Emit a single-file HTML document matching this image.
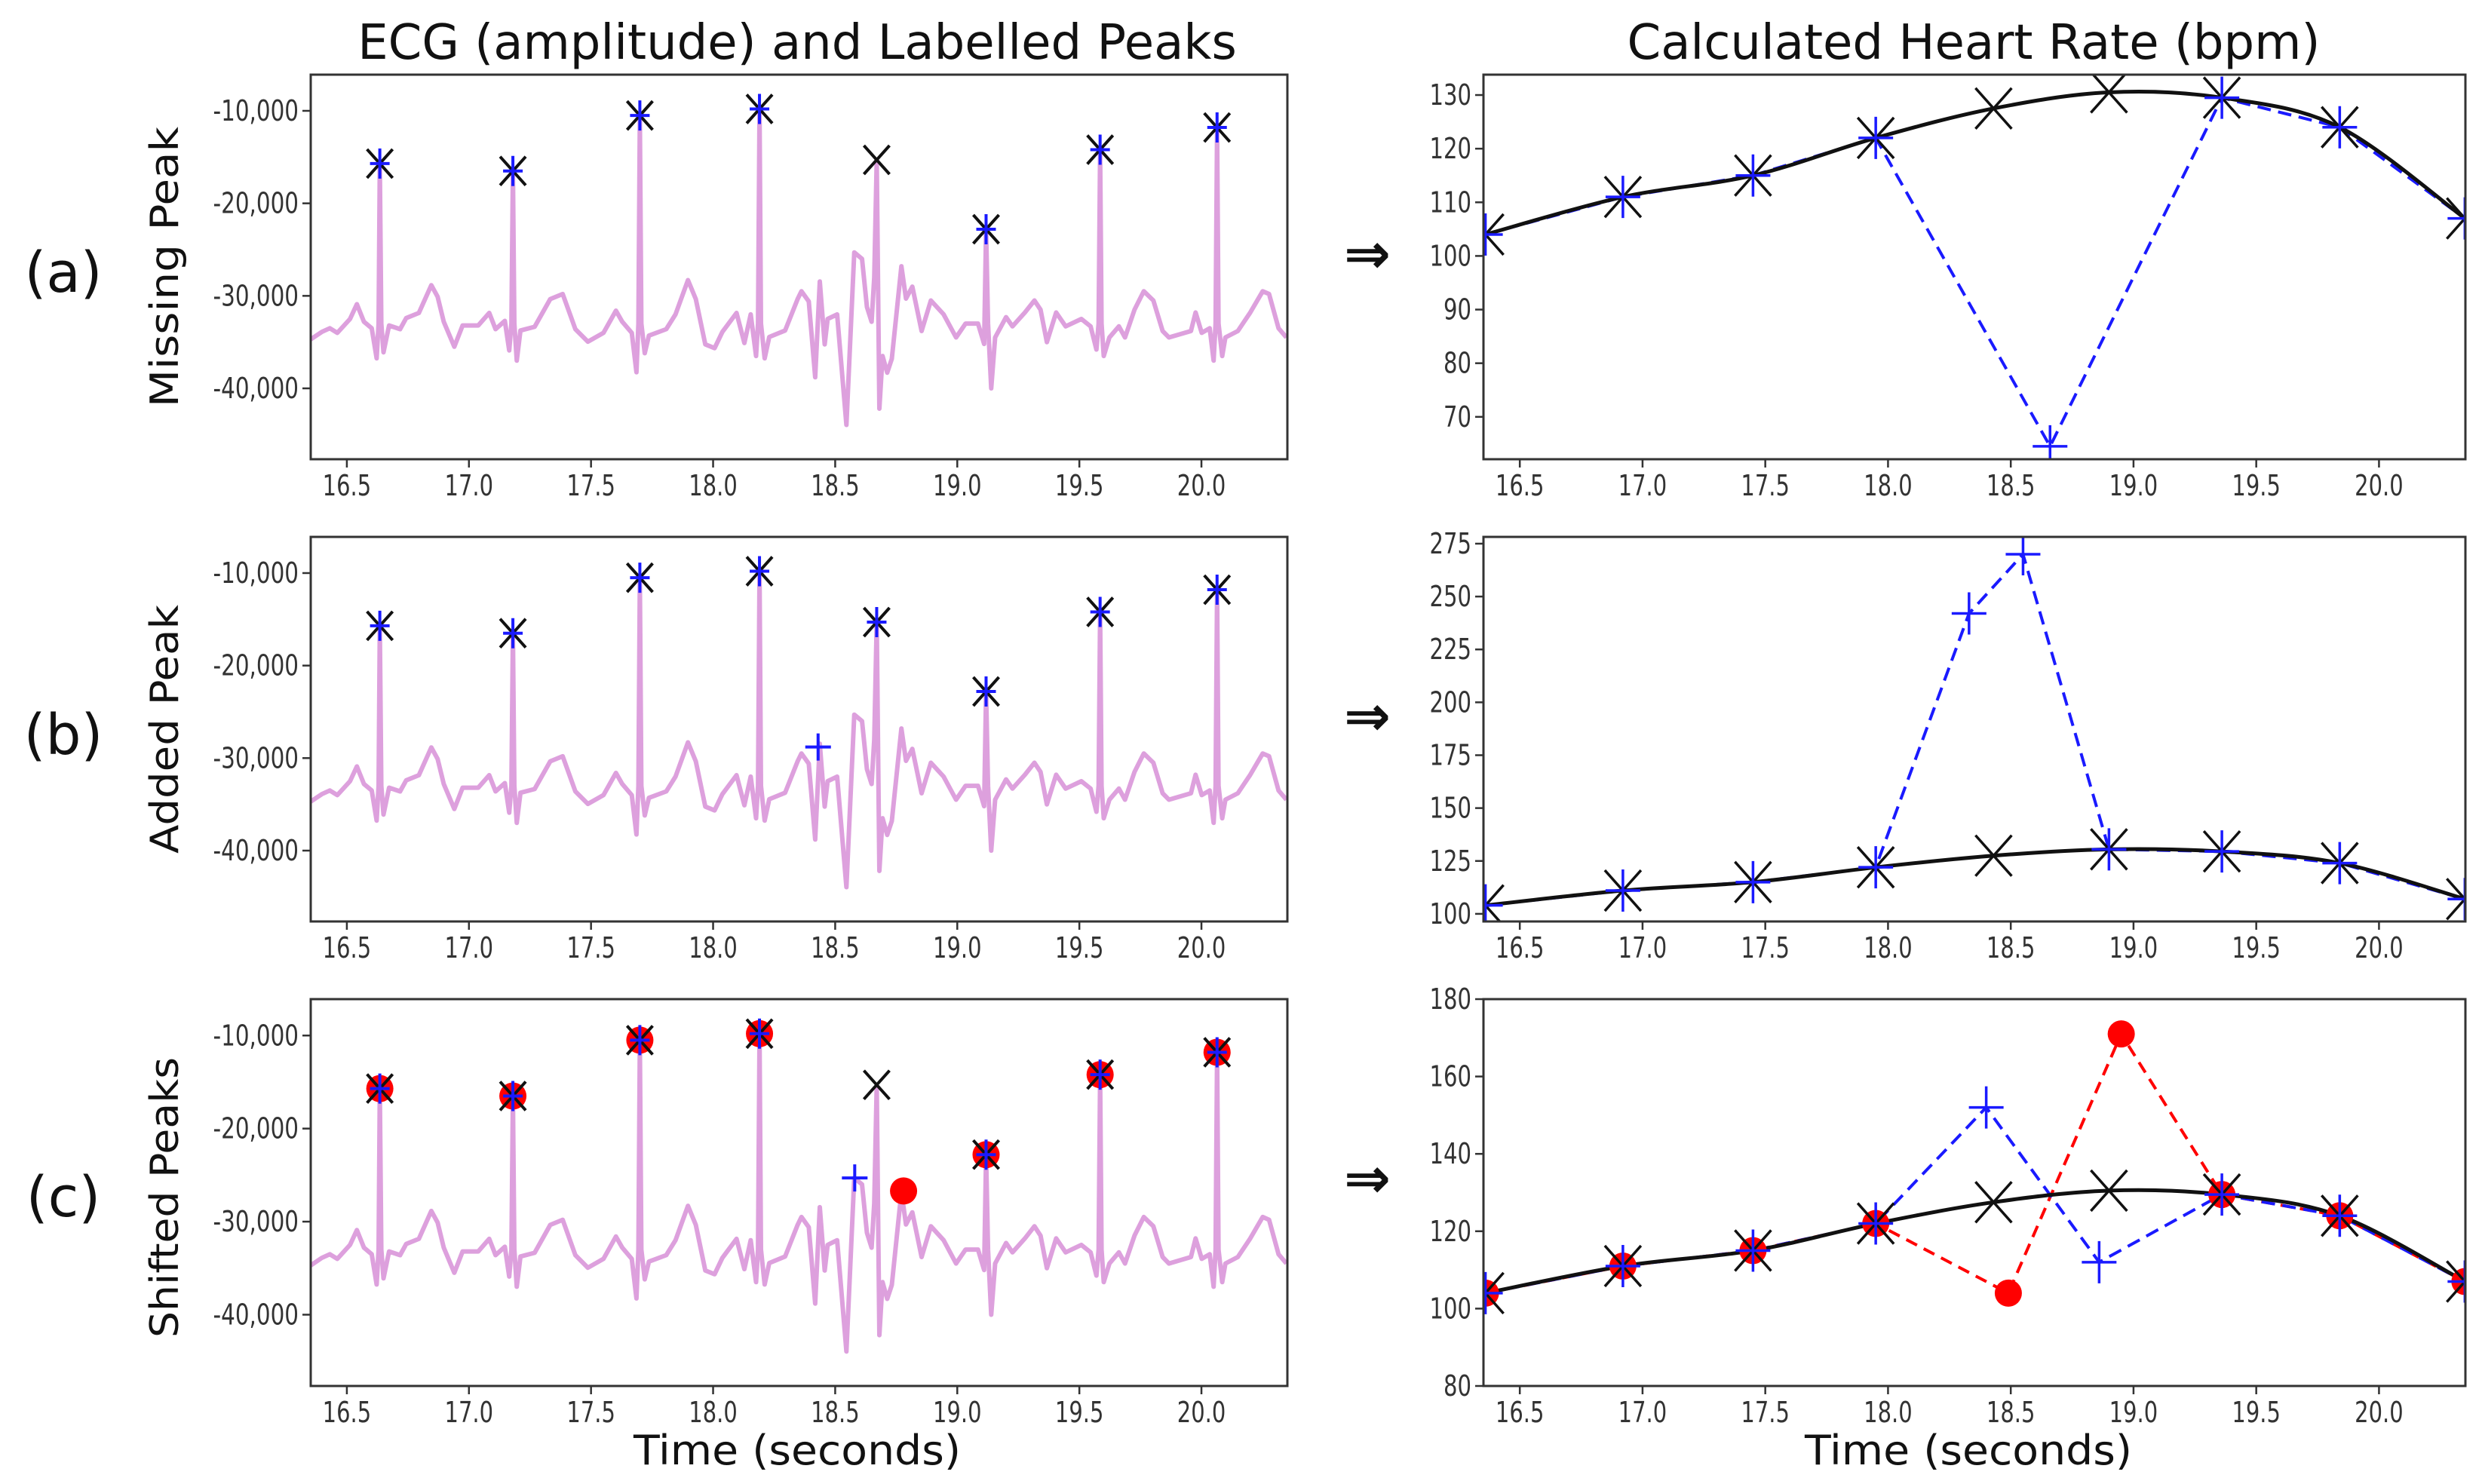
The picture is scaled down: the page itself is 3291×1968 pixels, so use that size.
<!DOCTYPE html>
<html><head><meta charset="utf-8">
<style>
html,body{margin:0;padding:0;background:#fff;}
svg{display:block;}
text{font-family:"DejaVu Sans","Liberation Sans",sans-serif;}
</style></head>
<body>
<svg id="fig" width="3291" height="1968" viewBox="0 0 3291 1968" xmlns="http://www.w3.org/2000/svg">
<rect x="0" y="0" width="3291" height="1968" fill="#fff"/>
<text x="1057" y="78" font-size="64" text-anchor="middle" font-family="Liberation Sans, sans-serif" fill="#111">ECG (amplitude) and Labelled Peaks</text>
<text x="2617" y="78" font-size="64" text-anchor="middle" font-family="Liberation Sans, sans-serif" fill="#111">Calculated Heart Rate (bpm)</text>
<text x="84" y="387" font-size="74" text-anchor="middle" font-family="Liberation Sans, sans-serif" fill="#111">(a)</text>
<text x="84" y="1000" font-size="74" text-anchor="middle" font-family="Liberation Sans, sans-serif" fill="#111">(b)</text>
<text x="84" y="1613" font-size="74" text-anchor="middle" font-family="Liberation Sans, sans-serif" fill="#111">(c)</text>
<text x="1813" y="362" font-size="74" font-weight="bold" text-anchor="middle" fill="#111">⇒</text>
<text x="1813" y="975" font-size="74" font-weight="bold" text-anchor="middle" fill="#111">⇒</text>
<text x="1813" y="1588" font-size="74" font-weight="bold" text-anchor="middle" fill="#111">⇒</text>
<text transform="translate(236,354) rotate(-90)" font-size="52" text-anchor="middle" textLength="372" lengthAdjust="spacingAndGlyphs" fill="#111">Missing Peak</text>
<text transform="translate(236,967) rotate(-90)" font-size="52" text-anchor="middle" textLength="330" lengthAdjust="spacingAndGlyphs" fill="#111">Added Peak</text>
<text transform="translate(236,1588) rotate(-90)" font-size="52" text-anchor="middle" textLength="372" lengthAdjust="spacingAndGlyphs" fill="#111">Shifted Peaks</text>
<text x="1057" y="1942" font-size="54" text-anchor="middle" textLength="434" lengthAdjust="spacingAndGlyphs" fill="#111">Time (seconds)</text>
<text x="2610" y="1942" font-size="54" text-anchor="middle" textLength="434" lengthAdjust="spacingAndGlyphs" fill="#111">Time (seconds)</text>
</svg>
<script>
const xTicks = [16.5, 17.0, 17.5, 18.0, 18.5, 19.0, 19.5, 20.0];
const xTickLabels = ["16.5", "17.0", "17.5", "18.0", "18.5", "19.0", "19.5", "20.0"];
const ecgYTicks = [-10000, -20000, -30000, -40000];
const ecgYTickLabels = ["-10,000", "-20,000", "-30,000", "-40,000"];
const hrTicksA = [70, 80, 90, 100, 110, 120, 130];
const hrTicksB = [100, 125, 150, 175, 200, 225, 250, 275];
const hrTicksC = [80, 100, 120, 140, 160, 180];

const ecgTime = [16.352,16.397,16.430,16.461,16.513,16.541,16.570,16.602,16.622,16.630,16.635,16.641,16.650,16.673,16.718,16.743,16.795,16.846,16.872,16.897,16.940,16.974,17.038,17.083,17.109,17.147,17.165,17.174,17.180,17.186,17.196,17.211,17.269,17.333,17.384,17.436,17.487,17.551,17.602,17.628,17.667,17.686,17.694,17.700,17.706,17.720,17.737,17.808,17.846,17.897,17.929,17.968,18.006,18.038,18.096,18.128,18.154,18.176,18.184,18.190,18.196,18.211,18.230,18.295,18.346,18.362,18.392,18.418,18.437,18.457,18.469,18.508,18.546,18.578,18.610,18.630,18.649,18.660,18.670,18.681,18.694,18.713,18.732,18.771,18.790,18.816,18.854,18.892,18.944,18.995,19.034,19.085,19.110,19.118,19.126,19.139,19.155,19.200,19.226,19.277,19.316,19.341,19.367,19.405,19.444,19.508,19.546,19.570,19.579,19.585,19.591,19.600,19.623,19.662,19.687,19.726,19.764,19.803,19.841,19.867,19.957,19.976,20.001,20.034,20.050,20.058,20.064,20.070,20.085,20.098,20.149,20.200,20.251,20.277,20.316,20.348];
const ecgAmp = [-34700,-33900,-33500,-34000,-32500,-30900,-32800,-33500,-36750,-33000,-15700,-33000,-36100,-33200,-33600,-32400,-31850,-28850,-30100,-32800,-35500,-33200,-33200,-31850,-33600,-32700,-35900,-33000,-16500,-33000,-37000,-33750,-33350,-30350,-29800,-33600,-34950,-34000,-31600,-32800,-34000,-38250,-33000,-10500,-33000,-36200,-34300,-33600,-32000,-28300,-30350,-35250,-35650,-33900,-31850,-35100,-32000,-36500,-33000,-9800,-33000,-36750,-34450,-33750,-30350,-29500,-30600,-38800,-28450,-35250,-32500,-32000,-43950,-25300,-26000,-31200,-32800,-28000,-15300,-42200,-36500,-38300,-36800,-26800,-30300,-29000,-33800,-30500,-32000,-34500,-33000,-33000,-35200,-22800,-33000,-40000,-34500,-32300,-33300,-31800,-30500,-31500,-35000,-31800,-33300,-32500,-33300,-35800,-33000,-14200,-33000,-36500,-34500,-33300,-34500,-31500,-29500,-30500,-33800,-34500,-33800,-31800,-34000,-33500,-37000,-33000,-11800,-33000,-36500,-34500,-33800,-31800,-29500,-29800,-33500,-34500];

const peakTime = [16.635, 17.180, 17.700, 18.190, 18.670, 19.118, 19.585, 20.064];
const peakAmp = [-15700, -16500, -10500, -9800, -15300, -22800, -14200, -11800];
const missingDetectedTime = [16.635, 17.180, 17.700, 18.190, 19.118, 19.585, 20.064];
const missingDetectedAmp = [-15700, -16500, -10500, -9800, -22800, -14200, -11800];
const addedPeakTime = [18.430];
const addedPeakAmp = [-28800];
const shiftedBlueTime = [18.580];
const shiftedBlueAmp = [-25300];
const shiftedRedTime = [16.635, 17.180, 17.700, 18.190, 18.780, 19.118, 19.585, 20.064];
const shiftedRedAmp = [-15700, -16500, -10500, -9800, -26700, -22800, -14200, -11800];

const hrTime = [16.36, 16.92, 17.45, 17.95, 18.43, 18.90, 19.36, 19.84, 20.35];
const hrTrue = [104, 111, 115, 122, 127.5, 130.5, 129.5, 124, 107];
const hrMissTime = [16.36, 16.92, 17.45, 17.95, 18.66, 19.36, 19.84, 20.35];
const hrMiss = [104, 111, 115, 122, 64.5, 129.5, 124, 107];
const hrAddTime = [16.36, 16.92, 17.45, 17.95, 18.33, 18.55, 18.90, 19.36, 19.84, 20.35];
const hrAdd = [104, 111, 115, 122, 242, 270, 130.5, 129.5, 124, 107];
const hrShiftBlueTime = [16.36, 16.92, 17.45, 17.95, 18.40, 18.86, 19.36, 19.84, 20.35];
const hrShiftBlue = [104, 111, 115, 122, 152, 112, 129.5, 124, 107];
const hrShiftRedTime = [16.36, 16.92, 17.45, 17.95, 18.49, 18.95, 19.36, 19.84, 20.35];
const hrShiftRed = [104, 111, 115, 122, 104, 171, 129.5, 124, 107];

const NS = "http://www.w3.org/2000/svg";
const svg = document.getElementById("fig");
const X0 = 16.352, X1 = 20.352;
const rowsTop = [99, 712, 1325];
const rowsBot = [609, 1222, 1838];
const leftL = 412, leftR = 1707, rightL = 1967, rightR = 3269;

function mk(tag, attrs, parent) {
  const e = document.createElementNS(NS, tag);
  for (const k in attrs) e.setAttribute(k, attrs[k]);
  (parent || svg).appendChild(e);
  return e;
}
function makeAxes(l, r, t, b, y0, y1) {
  return { sx: v => l + (v - X0) / (X1 - X0) * (r - l), sy: v => b - (v - y0) / (y1 - y0) * (b - t), l, r, t, b };
}
function labelWidth(s) {
  let w = 0;
  for (const c of s) w += (c >= "0" && c <= "9") ? 18.5 : (c === "-" ? 12 : 9);
  return w;
}
function drawFrame(ax, name, yTicks, yLabels) {
  const g = mk("g", {});
  
  
  xTicks.forEach((v, i) => {
    const x = ax.sx(v);
    const tk = mk("line", { x1: x, y1: ax.b, x2: x, y2: ax.b + 11, stroke: "#333", "stroke-width": 2.5 }, g);
    
    
    const tx = mk("text", { x: x, y: ax.b + 48, "font-size": 38, "text-anchor": "middle", fill: "#333", textLength: labelWidth(xTickLabels[i]), lengthAdjust: "spacingAndGlyphs" }, g);
    tx.textContent = xTickLabels[i];
    
    
  });
  yTicks.forEach((v, i) => {
    const y = ax.sy(v);
    const tk = mk("line", { x1: ax.l - 11, y1: y, x2: ax.l, y2: y, stroke: "#333", "stroke-width": 2.5 }, g);
    
    
    const tx = mk("text", { x: ax.l - 16, y: y + 13, "font-size": 38, "text-anchor": "end", fill: "#333", textLength: labelWidth(yLabels[i]), lengthAdjust: "spacingAndGlyphs" }, g);
    tx.textContent = yLabels[i];
    
    
  });
  const fr = mk("rect", { x: ax.l, y: ax.t, width: ax.r - ax.l, height: ax.b - ax.t, fill: "none", stroke: "#333", "stroke-width": 3 }, g);
  
  
}
let clipN = 0;
function clipGroup(ax, name) {
  const id = "clip" + (clipN++);
  const cp = mk("clipPath", { id: id });
  mk("rect", { x: ax.l, y: ax.t, width: ax.r - ax.l, height: ax.b - ax.t }, cp);
  const g = mk("g", { "clip-path": "url(#" + id + ")" });
  
  
  return g;
}
function xMarker(g, x, y, hw, hh, sw) {
  const p = mk("path", { d: `M${x-hw},${y-hh}L${x+hw},${y+hh}M${x-hw},${y+hh}L${x+hw},${y-hh}`, stroke: "#111", "stroke-width": sw, fill: "none" }, g);
  
  
}
function plusMarker(g, x, y, hw, hh, sw) {
  const p = mk("path", { d: `M${x-hw},${y}L${x+hw},${y}M${x},${y-hh}L${x},${y+hh}`, stroke: "#1a1aff", "stroke-width": sw, fill: "none" }, g);
  
  
}
function dotMarker(g, x, y, r) {
  const c = mk("circle", { cx: x, cy: y, r: r, fill: "#ff0000" }, g);
  
  
}
function polyline(g, ax, ts, vs, color, sw, dash, name) {
  const pts = ts.map((t, i) => ax.sx(t).toFixed(1) + "," + ax.sy(vs[i]).toFixed(1)).join(" ");
  const a = { points: pts, fill: "none", stroke: color, "stroke-width": sw, "stroke-linejoin": "round" };
  if (dash) a["stroke-dasharray"] = dash;
  const p = mk("polyline", a, g);
  
  
}
function smoothLine(g, ax, ts, vs, name) {
  const P = ts.map((t, i) => [ax.sx(t), ax.sy(vs[i])]);
  let d = `M${P[0][0]},${P[0][1]}`;
  for (let i = 0; i < P.length - 1; i++) {
    const p0 = P[Math.max(0, i - 1)], p1 = P[i], p2 = P[i + 1], p3 = P[Math.min(P.length - 1, i + 2)];
    const c1 = [p1[0] + (p2[0] - p0[0]) / 6, p1[1] + (p2[1] - p0[1]) / 6];
    const c2 = [p2[0] - (p3[0] - p1[0]) / 6, p2[1] - (p3[1] - p1[1]) / 6];
    d += `C${c1[0]},${c1[1]} ${c2[0]},${c2[1]} ${p2[0]},${p2[1]}`;
  }
  const p = mk("path", { d: d, fill: "none", stroke: "#111", "stroke-width": 5 }, g);
  
  
}

const ecgY0 = -47660, ecgY1 = -6090;
const rowNames = ["missing-peak", "added-peak", "shifted-peaks"];
for (let r = 0; r < 3; r++) {
  const ax = makeAxes(leftL, leftR, rowsTop[r], rowsBot[r], ecgY0, ecgY1);
  const g = clipGroup(ax, "ecg-plot-" + rowNames[r]);
  polyline(g, ax, ecgTime, ecgAmp, "#dda0dd", 6, null, "ecg-trace");
  if (r === 0) {
    peakTime.forEach((t, i) => xMarker(g, ax.sx(t), ax.sy(peakAmp[i]), 17, 19, 4));
    missingDetectedTime.forEach((t, i) => plusMarker(g, ax.sx(t), ax.sy(missingDetectedAmp[i]), 13, 20, 4));
  } else if (r === 1) {
    peakTime.forEach((t, i) => xMarker(g, ax.sx(t), ax.sy(peakAmp[i]), 17, 19, 4));
    peakTime.forEach((t, i) => plusMarker(g, ax.sx(t), ax.sy(peakAmp[i]), 13, 20, 4));
    addedPeakTime.forEach((t, i) => plusMarker(g, ax.sx(t), ax.sy(addedPeakAmp[i]), 17, 18, 4));
  } else {
    shiftedRedTime.forEach((t, i) => dotMarker(g, ax.sx(t), ax.sy(shiftedRedAmp[i]), 18));
    peakTime.forEach((t, i) => xMarker(g, ax.sx(t), ax.sy(peakAmp[i]), 17, 19, 4));
    peakTime.forEach((t, i) => { if (i !== 4) plusMarker(g, ax.sx(t), ax.sy(peakAmp[i]), 13, 20, 4); });
    shiftedBlueTime.forEach((t, i) => plusMarker(g, ax.sx(t), ax.sy(shiftedBlueAmp[i]), 17, 18, 4));
  }
  drawFrame(ax, "ecg-" + rowNames[r], ecgYTicks, ecgYTickLabels);
}

const hrLims = [[62.1, 133.8], [96.4, 278.2], [80, 180]];
const hrTicks = [hrTicksA, hrTicksB, hrTicksC];
for (let r = 0; r < 3; r++) {
  const ax = makeAxes(rightL, rightR, rowsTop[r], rowsBot[r], hrLims[r][0], hrLims[r][1]);
  const g = clipGroup(ax, "heart-rate-plot-" + rowNames[r]);
  let bt, bv;
  if (r === 0) { bt = hrMissTime; bv = hrMiss; }
  else if (r === 1) { bt = hrAddTime; bv = hrAdd; }
  else { bt = hrShiftBlueTime; bv = hrShiftBlue; }
  if (r === 2) polyline(g, ax, hrShiftRedTime, hrShiftRed, "#ff0000", 4, "16 10", "red-hr-line");
  polyline(g, ax, bt, bv, "#1a1aff", 4, "18 10", "blue-hr-line");
  smoothLine(g, ax, hrTime, hrTrue, "true-hr-line");
  if (r === 2) hrShiftRedTime.forEach((t, i) => dotMarker(g, ax.sx(t), ax.sy(hrShiftRed[i]), 18));
  hrTime.forEach((t, i) => xMarker(g, ax.sx(t), ax.sy(hrTrue[i]), 24, 27, 3.5));
  bt.forEach((t, i) => plusMarker(g, ax.sx(t), ax.sy(bv[i]), 23, 28, 3.5));
  drawFrame(ax, "hr-" + rowNames[r], hrTicks[r], hrTicks[r].map(String));
}
</script>
</body></html>
